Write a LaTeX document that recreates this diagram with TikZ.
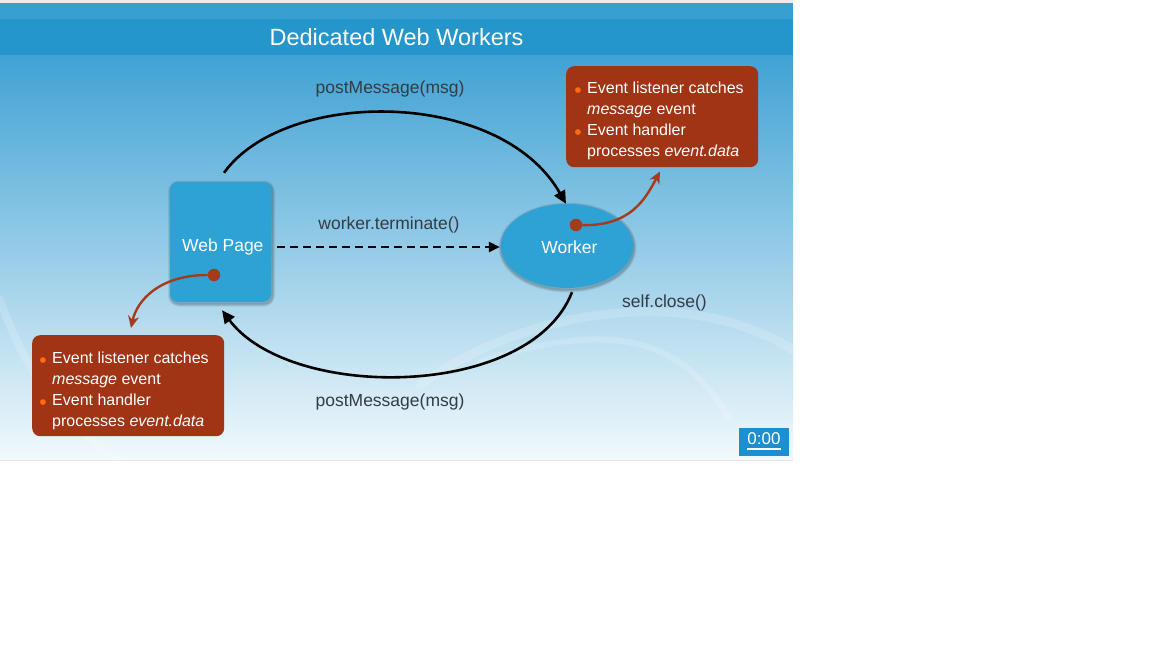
\documentclass[tikz,border=0pt]{standalone}
\usepackage{fontspec}
\setmainfont{Liberation Sans}
\usetikzlibrary{arrows.meta,shapes.geometric,calc}

\definecolor{bandtop}{HTML}{379FD1}
\definecolor{band}{HTML}{2596CC}
\definecolor{skytop}{HTML}{40A2D4}
\definecolor{skymid}{HTML}{8EC8E4}
\definecolor{skybot}{HTML}{F2F9FC}
\definecolor{nodeblue}{HTML}{2FA2D5}
\definecolor{callred}{HTML}{A03415}
\definecolor{linkred}{HTML}{A53A1C}
\definecolor{bulletorange}{HTML}{FF6A13}
\definecolor{labelgray}{HTML}{333C44}
\definecolor{clockblue}{HTML}{1B8FCF}

\newcommand\calloutbullet{\llap{\textcolor{bulletorange}{\raisebox{-3.3pt}{\fontsize{21}{21}\selectfont\textbullet}}\hspace{5.5pt}}}

\begin{document}
\begin{tikzpicture}[x=1pt,y=-1pt,
  lbl/.style={text=labelgray, font=\fontsize{17.5}{21}\selectfont, inner sep=0},
  entity/.style={fill=nodeblue, text=white, font=\fontsize{17.5}{21}\selectfont, inner sep=0, text depth=0pt},
  msg/.style={line width=2.6pt, -{Triangle[length=13pt,width=12pt]}},
  cancel/.style={line width=2.6pt, dash pattern=on 8pt off 5pt, -{Triangle[length=11pt,width=10pt]}},
  link/.style={linkred, line width=2.4pt, -{Stealth[length=12pt,width=11pt]}},
  dot/.style={circle, fill=linkred, minimum size=12.5pt, inner sep=0},
  callbox/.style={fill=callred, rounded corners=8pt, minimum width=192pt, minimum height=101pt, inner sep=0, anchor=north west},
  calltext/.style={text=white, font=\fontsize{16}{21}\selectfont, align=left, inner sep=0, anchor=north west},
  wave/.style={white, line cap=round, opacity=0.17}]
\useasboundingbox (0,0) rectangle (1152,648);
\fill[white] (0,0) rectangle (1152,648);

% slide background
\fill[gray!15] (0,0) rectangle (793,3);
\fill[bandtop] (0,3) rectangle (793,19);
\fill[band] (0,19) rectangle (793,55);
\shade[top color=skytop, middle color=skymid, bottom color=skybot] (0,55) rectangle (793,460);
\draw[gray!20, line width=1pt] (0,460.5) -- (793,460.5);

% soft swirls in the backdrop
\draw[wave, line width=9pt] (420,385) .. controls (540,300) and (700,290) .. (793,350);
\draw[wave, line width=6pt] (480,362) .. controls (600,322) and (680,332) .. (728,417);
\draw[wave, line width=8pt] (0,300) .. controls (25,370) and (60,420) .. (120,462);

% title
\node[text=white, font=\fontsize{23.5}{28}\selectfont] (title) at (396.5,37) {Dedicated Web Workers};

% soft halos under the two parties
\foreach \k in {1,...,4}
  \draw[black, opacity=0.07, line width=\k*1.5pt, rounded corners=8pt] (171,183.5) rectangle (272,303.5);
\foreach \k in {1,...,4}
  \draw[black, opacity=0.07, line width=\k*1.5pt] (567.5,247.5) ellipse [x radius=66, y radius=42];

% the two parties
\node[entity, rectangle, rounded corners=8pt, minimum width=101pt, minimum height=120pt, text height=18pt] (page) at (220.5,242) {\hspace*{4.6pt}Web Page};
\node[entity, ellipse, minimum width=132pt, minimum height=84pt, text height=14.6pt] (worker) at (567,246) {\hspace*{5pt}Worker};

% messages between them
\draw[msg] ($(page.north)+(3.5,-9)$) .. controls (285,88) and (500,88) .. ($(worker.north)+(-1,0)$);
\draw[msg] ($(worker.south)+(5,4)$) .. controls (530,400) and (290,401) .. ($(page.south)+(1.5,8)$);
\draw[cancel] ($(page.east)+(6,5)$) -- ($(worker.west)+(-1,1)$);

\node[lbl] (pm1) at (390,89) {postMessage(msg)};
\node[lbl] (term) at (389,225) {worker.terminate()};
\node[lbl] (pm2) at (390,402) {postMessage(msg)};
\node[lbl] (selfc) at (664.5,302.5) {self.close()};

% callouts
\node[callbox] (rbox) at (566,66) {};
\node[calltext] (rtext) at (587,82) {\calloutbullet Event listener catches\\\textit{message} event\\\calloutbullet Event handler\\processes \textit{event.data}};
\node[callbox] (lbox) at (32,335) {};
\node[calltext] (ltext) at (52,352) {\calloutbullet Event listener catches\\\textit{message} event\\\calloutbullet Event handler\\processes \textit{event.data}};

% event listener hooks
\node[dot] (workerdot) at (576,225) {};
\node[dot] (pagedot) at (214,275) {};
\draw[link] (workerdot) .. controls (630,226) and (645,200) .. ($(rbox.south west)+(94,4)$);
\draw[link] (pagedot) .. controls (160,275) and (137,300) .. ($(lbox.north west)+(99,-7)$);

% timer
\node[fill=clockblue, minimum width=50pt, minimum height=28pt, inner sep=0] (clock) at (764,442) {};
\node[text=white, font=\fontsize{17}{20}\selectfont, inner sep=0] (clocktxt) at (764,439) {0:00};
\draw[white, line width=2.5pt] ($(clocktxt.base west)+(0,4)$) -- ($(clocktxt.base east)+(0,4)$);
\end{tikzpicture}
\end{document}
